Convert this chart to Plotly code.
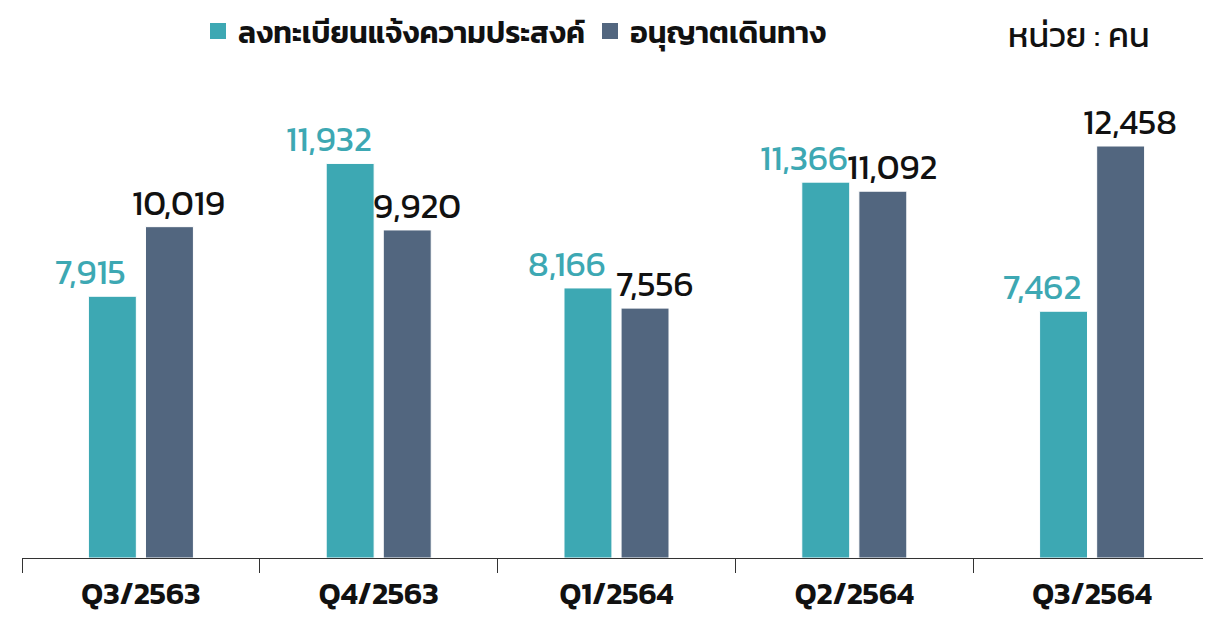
import plotly.graph_objects as go

categories = ["Q3/2563", "Q4/2563", "Q1/2564", "Q2/2564", "Q3/2564"]
registered = [7915, 11932, 8166, 11366, 7462]
permitted = [10019, 9920, 7556, 11092, 12458]
series_names = ["ลงทะเบียนแจ้งความประสงค์", "อนุญาตเดินทาง"]
unit_text = "หน่วย : คน"

teal = "#3DA8B3"
slate = "#52667F"
FONT = "Kanit, 'Noto Sans Thai', 'Noto Sans', sans-serif"

# page has 8px body margin; figure sized to fit the 1211x618 window
W, H = 1203, 610
L, R, T, B = 14, 0, 52, 60
PW = W - L - R
PH = H - T - B

fig = go.Figure()
fig.add_trace(go.Bar(x=categories, y=registered, name=series_names[0], showlegend=False,
                     marker=dict(color=teal, line=dict(color="white", width=1))))
fig.add_trace(go.Bar(x=categories, y=permitted, name=series_names[1], showlegend=False,
                     marker=dict(color=slate, line=dict(color="white", width=1))))
# legend entries with larger square swatches
for nm, col in zip(series_names, [teal, slate]):
    fig.add_trace(go.Scatter(x=[None], y=[None], mode="markers", name=nm,
                             marker=dict(symbol="square", size=16, color=col)))

for c, v in zip(categories, registered):
    fig.add_annotation(x=c, y=v, text=f"{v:,}", showarrow=False, xshift=-50,
                       yanchor="bottom", yshift=-4,
                       font=dict(size=35, color=teal, family=FONT))
for c, v in zip(categories, permitted):
    fig.add_annotation(x=c, y=v, text=f"{v:,}", showarrow=False, xshift=38,
                       yanchor="bottom", yshift=-4,
                       font=dict(size=35, color="#111111", family=FONT))

fig.add_annotation(xref="paper", yref="paper", x=(1152 - 8 - L) / PW, y=1 + (T - 27) / PH,
                   xanchor="right", yanchor="middle", text=unit_text, showarrow=False,
                   font=dict(size=34, color="#111111", family=FONT))

fig.update_layout(
    width=W, height=H,
    margin=dict(l=L, r=R, t=T, b=B, autoexpand=False),
    plot_bgcolor="white", paper_bgcolor="white",
    barmode="group", bargap=0.52, bargroupgap=0.16,
    font=dict(family=FONT, color="#111111"),
    showlegend=True,
    legend=dict(orientation="h", x=(198 - 8 - L) / PW, xanchor="left",
                y=1 + (T - 23) / PH, yanchor="middle",
                font=dict(size=30, color="#111111", family=FONT, weight=600),
                itemwidth=30, itemsizing="trace", traceorder="normal",
                bgcolor="rgba(0,0,0,0)"),
    xaxis=dict(showline=True, linecolor="#333333", linewidth=1, ticks="outside",
               tickson="boundaries", ticklen=14, tickcolor="#333333",
               ticklabelstandoff=8, automargin=False,
               tickfont=dict(size=31, color="#111111", family=FONT, weight=600),
               showgrid=False),
    yaxis=dict(range=[0, PH / 0.03307], visible=False, showgrid=False, automargin=False),
)

fig.write_html("out.html")
